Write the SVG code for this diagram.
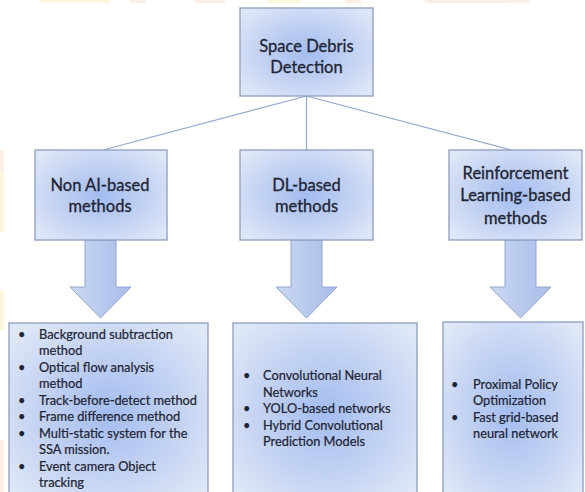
<svg xmlns="http://www.w3.org/2000/svg" width="585" height="492" viewBox="0 0 585 492">
<defs>
<radialGradient id="box" cx="50%" cy="50%" r="65%">
<stop offset="0" stop-color="#a3bcf0"/>
<stop offset="0.55" stop-color="#c4d3f3"/>
<stop offset="1" stop-color="#e0e8f7"/>
</radialGradient>
<linearGradient id="arr" x1="0" y1="0" x2="1" y2="0">
<stop offset="0" stop-color="#ccd8f1"/>
<stop offset="0.5" stop-color="#b8caee"/>
<stop offset="1" stop-color="#a9bde9"/>
</linearGradient>
<style>
.bx{fill:url(#box);stroke:#8c9dbf;stroke-width:1.3}
.ar{fill:url(#arr);stroke:#93a6cc;stroke-width:1}
.cn{stroke:#93a9cc;stroke-width:1.2;fill:none}
.h{font-family:Lato,"Liberation Sans",sans-serif;font-size:16.5px;fill:#1d2433;stroke:#1d2433;stroke-width:0.3;text-anchor:middle}
.t{font-family:Lato,"Liberation Sans",sans-serif;font-size:12.8px;fill:#1d2433;stroke:#1d2433;stroke-width:0.22}
.bg{opacity:0.35}
</style>
</defs>
<rect width="585" height="492" fill="#ffffff"/>
<g id="background" class="bg">
<rect x="40" y="0" width="70" height="3" fill="#fde9a0"/>
<rect x="130" y="0" width="16" height="3" fill="#fbd3b0"/>
<rect x="195" y="0" width="30" height="3" fill="#fbd3b0"/>
<rect x="268" y="0" width="32" height="3" fill="#fde9a0"/>
<rect x="345" y="0" width="16" height="3" fill="#fbd3b0"/>
<rect x="425" y="0" width="105" height="3" fill="#fbd3b0"/>
<rect x="0" y="150" width="4" height="22" fill="#fbd3b0"/>
<rect x="0" y="172" width="4" height="60" fill="#fde9a0"/>
<rect x="0" y="290" width="4" height="40" fill="#fde9a0"/>
<rect x="0" y="440" width="4" height="52" fill="#fbd3b0"/>
</g>
<g id="connectors">
<line class="cn" x1="306.5" y1="96" x2="103" y2="150"/>
<line class="cn" x1="306.5" y1="96" x2="306.5" y2="150"/>
<line class="cn" x1="306.5" y1="96" x2="511" y2="150"/>
<polygon class="ar" points="85,240 116,240 116,287 131,287 100.5,318 70,287 85,287"/>
<polygon class="ar" points="291,240 322,240 322,287 337,287 306.5,318 276,287 291,287"/>
<polygon class="ar" points="505,240 536,240 536,287 551,287 520.5,318 490,287 505,287"/>
</g>
<g id="root">
<rect class="bx" x="240" y="8" width="133" height="88"/>
<text class="h" x="306.5" y="52">Space Debris</text>
<text class="h" x="306.5" y="73">Detection</text>
</g>
<g id="nonai">
<rect class="bx" x="35" y="150" width="132" height="90"/>
<text class="h" x="100" y="191">Non AI-based</text>
<text class="h" x="100" y="212">methods</text>
</g>
<g id="dl">
<rect class="bx" x="240" y="150" width="133" height="90"/>
<text class="h" x="306.5" y="191">DL-based</text>
<text class="h" x="306.5" y="212">methods</text>
</g>
<g id="rl">
<rect class="bx" x="449" y="150" width="133" height="90"/>
<text class="h" x="515.5" y="179">Reinforcement</text>
<text class="h" x="515.5" y="201">Learning-based</text>
<text class="h" x="515.5" y="224">methods</text>
</g>
<g id="nonai-list">
<rect class="bx" x="9" y="323" width="199" height="180"/>
<g class="t">
<text x="18" y="339">•</text><text x="39" y="339">Background subtraction</text>
<text x="39" y="355">method</text>
<text x="18" y="372">•</text><text x="39" y="372">Optical flow analysis</text>
<text x="39" y="388">method</text>
<text x="18" y="405">•</text><text x="39" y="405">Track-before-detect method</text>
<text x="18" y="421">•</text><text x="39" y="421">Frame difference method</text>
<text x="18" y="438">•</text><text x="39" y="438">Multi-static system for the</text>
<text x="39" y="454">SSA mission.</text>
<text x="18" y="471">•</text><text x="39" y="471">Event camera Object</text>
<text x="39" y="487">tracking</text>
</g>
</g>
<g id="dl-list">
<rect class="bx" x="233" y="323" width="184" height="180"/>
<g class="t">
<text x="243" y="380">•</text><text x="263" y="380">Convolutional Neural</text>
<text x="263" y="397">Networks</text>
<text x="243" y="413">•</text><text x="263" y="413">YOLO-based networks</text>
<text x="243" y="430">•</text><text x="263" y="430">Hybrid Convolutional</text>
<text x="263" y="446">Prediction Models</text>
</g>
</g>
<g id="rl-list">
<rect class="bx" x="443" y="322" width="140" height="180"/>
<g class="t">
<text x="451" y="389">•</text><text x="473" y="389">Proximal Policy</text>
<text x="473" y="405">Optimization</text>
<text x="451" y="422">•</text><text x="473" y="422">Fast grid-based</text>
<text x="473" y="438">neural network</text>
</g>
</g>
</svg>
